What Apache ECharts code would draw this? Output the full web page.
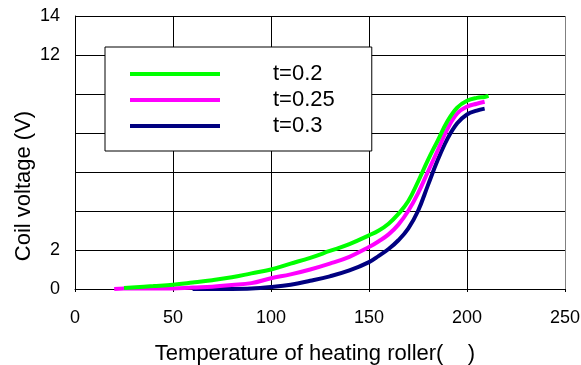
<!DOCTYPE html>
<html>
<head>
<meta charset="utf-8">
<script src="https://cdn.jsdelivr.net/npm/echarts@6/dist/echarts.min.js"></script>
<style>
    html, body { margin: 0; padding: 0; background: #fff; }
    #coilChart { width: 581px; height: 365px; }
</style>
</head>
<body>
<div id="coilChart"></div>
<script>
// 加热辊温度 - 线圈电压
var temps = [20, 25, 40, 50, 60, 70, 80, 90, 100, 110, 120, 130, 140, 150, 155, 160, 165, 170, 175, 180, 185, 190, 195, 200, 205, 209, 211]
var voltT020 = [null, 0.05, 0.15, 0.22, 0.33, 0.45, 0.6, 0.8, 1.0, 1.3, 1.6, 1.95, 2.3, 2.75, 3.0, 3.35, 3.85, 4.5, 5.5, 6.6, 7.6, 8.6, 9.3, 9.65, 9.8, 9.85, 9.9]
var voltT025 = [0, 0.02, 0.02, 0.03, 0.08, 0.12, 0.2, 0.3, 0.55, 0.75, 1.0, 1.3, 1.65, 2.15, 2.45, 2.8, 3.3, 4.0, 4.9, 6.0, 7.1, 8.2, 9.0, 9.35, 9.5, 9.6, null]
var voltT030 = [null, null, null, null, 0, 0, 0, 0.02, 0.1, 0.22, 0.42, 0.65, 0.95, 1.38, 1.7, 2.05, 2.5, 3.1, 4.0, 5.3, 6.6, 7.7, 8.5, 8.95, 9.15, 9.25, null]
var seriesNames = ['t=0.2', 't=0.25', 't=0.3']
var yTickLabels = [0, 2, 12, 14]

var fontName = 'Liberation Sans, Arial, sans-serif'
var chartDom = document.getElementById('coilChart')
var myChart = echarts.init(chartDom)

// 组合成 [x, y]
function toPairs(vals) {
    return temps.map(function (t, i) {
        return [t, vals[i]]
    })
}

function buildSeries() {
    var colors = ['#00ff00', '#ff00ff', '#000080']
    return [voltT020, voltT025, voltT030].map(function (vals, i) {
        return {
            type: 'line',
            name: seriesNames[i],
            data: toPairs(vals),
            showSymbol: false,
            smooth: 0.4,
            color: colors[i],
            lineStyle: { width: 4, color: colors[i] }
        }
    }).reverse()
}

myChart.setOption({
    animation: false,
    grid: {
        left: 75,
        top: 16,
        right: 16,
        bottom: 76,
        outerBoundsMode: 'none'
    },
    legend: {
        data: seriesNames,
        orient: 'vertical',
        left: 105,
        top: 47,
        icon: 'rect',
        itemWidth: 90,
        itemHeight: 4,
        itemGap: 4,
        padding: [16, 37, 14, 25],
        backgroundColor: '#fff',
        borderColor: '#000',
        borderWidth: 1,
        textStyle: {
            fontFamily: fontName,
            fontSize: 22,
            lineHeight: 22,
            color: '#000',
            padding: [0, 0, 0, 48]
        }
    },
    xAxis: {
        type: 'value',
        min: 0,
        max: 250,
        interval: 50,
        name: 'Temperature of heating roller(    )',
        nameLocation: 'middle',
        nameGap: 54,
        nameTextStyle: { fontFamily: fontName, fontSize: 22, color: '#000', padding: [0, 10, 0, 0] },
        axisLine: { show: true, lineStyle: { color: '#000', width: 1 } },
        axisTick: { show: true, length: 3, lineStyle: { color: '#000' } },
        axisLabel: { fontFamily: fontName, fontSize: 18, color: '#000', margin: 20 },
        splitLine: {
            show: true,
            lineStyle: { color: ['#000', '#000', '#000', '#000', '#000', '#808080'], width: 1 }
        }
    },
    yAxis: {
        type: 'value',
        min: 0,
        max: 14,
        interval: 2,
        axisLine: { show: true, lineStyle: { color: '#000', width: 1 } },
        axisTick: { show: false },
        axisLabel: {
            fontFamily: fontName,
            fontSize: 18,
            color: '#000',
            margin: 15,
            formatter: function (v) {
                return yTickLabels.indexOf(v) >= 0 ? String(v) : ''
            }
        },
        splitLine: { show: true, lineStyle: { color: '#000', width: 1 } }
    },
    graphic: [{
        type: 'text',
        x: 24,
        y: 186,
        rotation: Math.PI / 2,
        style: {
            text: 'Coil voltage (V)',
            fontFamily: fontName,
            fontSize: 22,
            fill: '#000',
            align: 'center',
            verticalAlign: 'middle'
        }
    }],
    series: buildSeries()
})
</script>
</body>
</html>
